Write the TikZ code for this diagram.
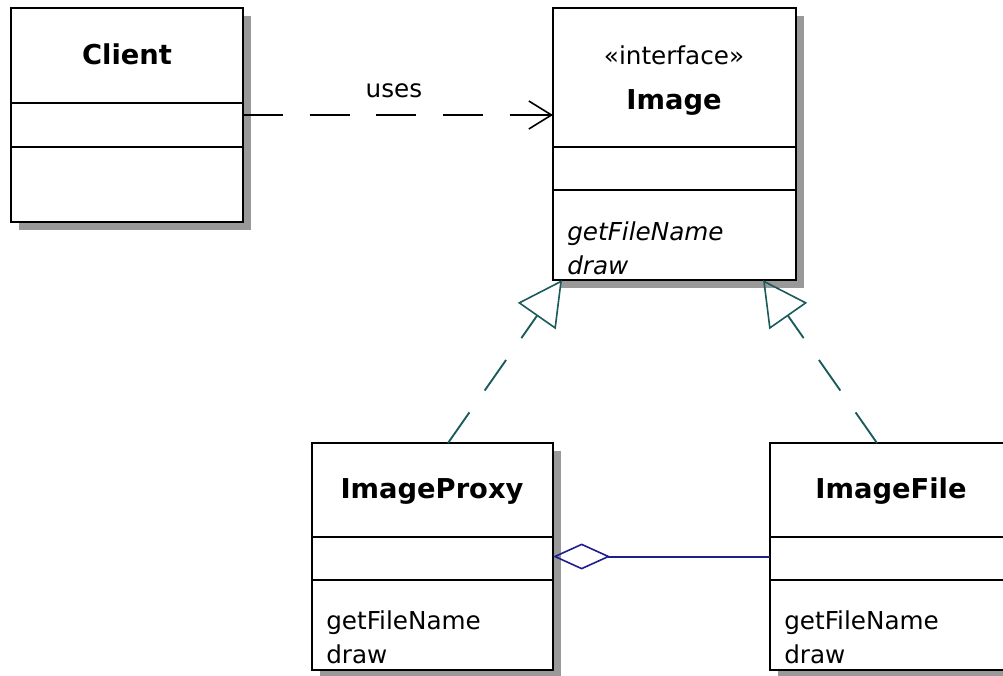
\documentclass[tikz,border=0pt]{standalone}
\usepackage{fontspec}
\setmainfont{DejaVu Sans}
\usetikzlibrary{arrows.meta,shadows,calc}

\definecolor{shadowgray}{RGB}{153,153,153}
\definecolor{realteal}{RGB}{25,90,90}
\definecolor{aggblue}{RGB}{30,30,140}

\begin{document}
\begin{tikzpicture}[x=0.75pt,y=-0.75pt,
  classbox/.style={rectangle, draw=black, line width=1.6pt, fill=white,
    anchor=north west, inner sep=0pt, outer sep=0pt,
    drop shadow={shadow xshift=6pt, shadow yshift=-6pt, fill=shadowgray, opacity=1}},
  divider/.style={draw=black, line width=1.6pt},
  classname/.style={inner sep=0pt, anchor=base, font=\bfseries\fontsize{20.5}{24}\selectfont},
  stereo/.style={inner sep=0pt, anchor=base, font=\fontsize{18.5}{22}\selectfont},
  member/.style={inner sep=0pt, anchor=base west, font=\fontsize{18.5}{22}\selectfont},
  absmember/.style={member, font=\itshape\fontsize{18.5}{22}\selectfont},
  dep/.style={draw=black, line width=1.5pt, dash pattern=on 30pt off 20pt,
    -{Straight Barb[length=17pt,width=21pt,line width=1.2pt]}},
  real/.style={draw=realteal, line width=1.4pt, dash pattern=on 28pt off 20pt,
    -{Triangle[open,length=33pt,width=34.5pt,line width=1.2pt]}},
  agg/.style={draw=aggblue, line width=1.5pt,
    {Diamond[open,length=43pt,width=19.5pt,line width=1.2pt]}-}]

\useasboundingbox (0,0) rectangle (1003,675);
\clip (0,0) rectangle (1003,675);

% class boxes
\node[classbox, minimum width=174pt, minimum height=160.5pt] (client) at (11,8) {};
\node[classbox, minimum width=182.25pt, minimum height=204pt] (image) at (553,8) {};
\node[classbox, minimum width=180.75pt, minimum height=170.25pt] (proxy) at (312,443) {};
\node[classbox, minimum width=181.5pt, minimum height=170.25pt] (file) at (770,443) {};

% compartments
\draw[divider] (client.west |- 0,103) -- (client.east |- 0,103);
\draw[divider] (client.west |- 0,147) -- (client.east |- 0,147);
\draw[divider] (image.west |- 0,147) -- (image.east |- 0,147);
\draw[divider] (image.west |- 0,190) -- (image.east |- 0,190);
\draw[divider] (proxy.west |- 0,537) -- (proxy.east |- 0,537);
\draw[divider] (proxy.west |- 0,580) -- (proxy.east |- 0,580);
\draw[divider] (file.west |- 0,537) -- (file.east |- 0,537);
\draw[divider] (file.west |- 0,580) -- (file.east |- 0,580);

% names and operations
\node[classname] (clientname) at (127,64) {Client};
\node[stereo] (imagestereo) at (674,64) {«interface»};
\node[classname] (imagename) at (674,109) {Image};
\node[absmember] (imageop1) at (567,240) {getFileName};
\node[absmember] (imageop2) at (567,274) {draw};
\node[classname] (proxyname) at (432,498) {ImageProxy};
\node[member] (proxyop1) at (326,629) {getFileName};
\node[member] (proxyop2) at (326,663) {draw};
\node[classname] (filename) at (891,498) {ImageFile};
\node[member] (fileop1) at (784,629) {getFileName};
\node[member] (fileop2) at (784,663) {draw};

% relations
\draw[dep] (client.east) -- (image.west |- client.east);
\node[stereo] (useslabel) at (394,97) {uses};
\draw[real] ($(proxy.north west)+(136,0)$) -- ($(image.south west)+(9,0)$);
\draw[real] ($(file.north west)+(107,0)$) -- ($(image.south west)+(210,0)$);
\draw[agg] (proxy.east) -- (file.west);
\end{tikzpicture}
\end{document}
